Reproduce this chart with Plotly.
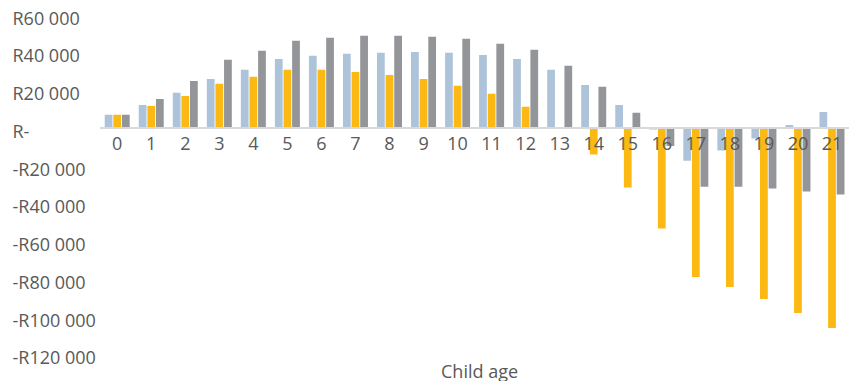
import plotly.graph_objects as go

# Child age categories (years)
ages = [str(a) for a in range(22)]

# Net amount per child age (rand) for the three series
series_blue = [6800, 12000, 18400, 25800, 30600, 36400, 38000, 39100, 39600, 40100,
               39600, 38500, 36400, 30600, 22600, 12000, -1000, -17500, -12200, -5800,
               1400, 8300]
series_yellow = [6800, 11500, 16800, 23200, 26900, 30600, 30600, 29500, 27900, 25800,
                 22100, 17900, 11000, 0, -14300, -31800, -53500, -79100, -84400, -90800,
                 -98200, -106100]
series_grey = [6800, 15200, 24700, 35900, 40700, 46000, 47600, 48600, 48600, 48100,
               47000, 44400, 41200, 32700, 21600, 7800, -9700, -31300, -31300, -32300,
               -33900, -35500]

# Y-axis ticks and their rand labels
y_ticks = [60000, 40000, 20000, 0, -20000, -40000, -60000, -80000, -100000, -120000]
y_tick_text = ["R60 000", "R40 000", "R20 000", "R-", "-R20 000", "-R40 000",
               "-R60 000", "-R80 000", "-R100 000", "-R120 000"]

colors = ["#adc3d9", "#fdb913", "#939598"]
names = ["Series 1", "Series 2", "Series 3"]

fig = go.Figure()
for vals, col, nm in zip([series_blue, series_yellow, series_grey], colors, names):
    fig.add_trace(go.Bar(x=ages, y=vals, name=nm, marker=dict(color=col, line=dict(width=0))))

# a little headroom so the end tick labels stay inside the plotting area
ymin, ymax = -130000, 66000
zero_pos = (0 - ymin) / (ymax - ymin)

label_font = dict(family="Open Sans", size=18, color="#595959")

fig.update_layout(
    width=849, height=381,
    margin=dict(l=0, r=0, t=3, b=8),
    paper_bgcolor="white", plot_bgcolor="white",
    barmode="group", bargap=0.24, bargroupgap=0.1,
    showlegend=False,
    font=label_font,
    xaxis=dict(
        domain=[0.118, 1.0],
        anchor="free", position=zero_pos,
        type="category",
        showline=True, linecolor="#d9d9d9", linewidth=1.5,
        showgrid=False, ticks="",
        tickfont=label_font,
        layer="above traces",
    ),
    yaxis=dict(
        range=[ymin, ymax],
        domain=[0, 1],
        anchor="free", position=0.01,
        tickvals=y_ticks, ticktext=y_tick_text,
        ticklabelposition="inside",
        ticklabelshift=4,
        showgrid=False, zeroline=False, showline=False, ticks="",
        tickfont=label_font,
    ),
    annotations=[dict(
        text="Child age", xref="paper", yref="paper",
        x=0.565, y=0.005, xanchor="center", yanchor="middle",
        showarrow=False, font=label_font,
    )],
)

fig.write_html("out.html")
